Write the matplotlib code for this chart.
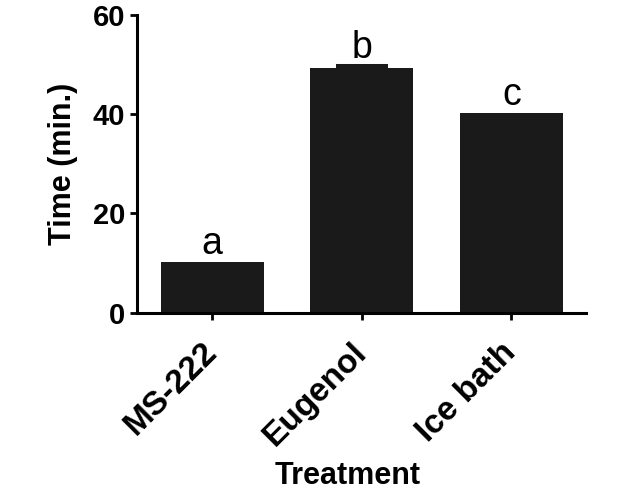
"""
Bar chart of time to anaesthesia for each treatment
"""
import matplotlib.pyplot as plt
from matplotlib.transforms import ScaledTranslation
import numpy as np

# Data
treatments = ["MS-222", "Eugenol", "Ice bath"]
time_min = [10.3, 49.3, 40.3]
time_err = [0.0, 0.5, 0.0]
group_letters = ["a", "b", "c"]

plt.rcParams["font.family"] = ["Liberation Sans", "DejaVu Sans"]

fig, ax = plt.subplots(figsize=(6.35, 4.91), dpi=100)
fig.subplots_adjust(left=0.2165, right=0.923, top=0.9695, bottom=0.3631)

x = np.arange(len(treatments))
bar_color = "#1a1a1a"

# Error bars behind the bars so only the upper part shows (skip zero ones)
for xi, val, err in zip(x, time_min, time_err):
    if err > 0:
        ax.errorbar(xi, val, yerr=[[0], [err]], fmt="none", ecolor=bar_color,
                    elinewidth=2.5, capsize=19, capthick=2.9, zorder=1)
ax.bar(x, time_min, width=0.69, color=bar_color, zorder=2)

# Significance letters
for xi, val, err, letter in zip(x, time_min, time_err, group_letters):
    ax.annotate(letter, (xi, val + err), xytext=(0, 5.5), textcoords="offset points",
                ha="center", va="baseline", fontsize=27)

ax.set_xlim(-0.5, 2.5)
ax.set_ylim(0, 60)
ax.set_yticks([0, 20, 40, 60])
ax.set_xticks(x)
ax.set_xticklabels(treatments, rotation=45, ha="right", va="center",
                   rotation_mode="anchor", fontsize=24, fontweight="bold")
shift = ScaledTranslation(-0.12, 0, fig.dpi_scale_trans)
for lab in ax.get_xticklabels():
    lab.set_transform(lab.get_transform() + shift)
for lab in ax.get_yticklabels():
    lab.set_fontsize(21)
    lab.set_fontweight("bold")

ax.spines["top"].set_visible(False)
ax.spines["right"].set_visible(False)
for side in ["left", "bottom"]:
    ax.spines[side].set_linewidth(2.2)
ax.tick_params(axis="y", length=5, width=2, pad=4)
ax.tick_params(axis="x", length=5, width=2, pad=20)

ax.set_ylabel("Time (min.)", fontsize=22, fontweight="bold")
ax.yaxis.set_label_coords(-0.133, 0.5)
ax.set_xlabel("Treatment", fontsize=22, fontweight="bold", va="baseline")
ax.xaxis.set_label_coords(0.469, -0.575)

fig.savefig("out.png", dpi=100)
plt.close(fig)
